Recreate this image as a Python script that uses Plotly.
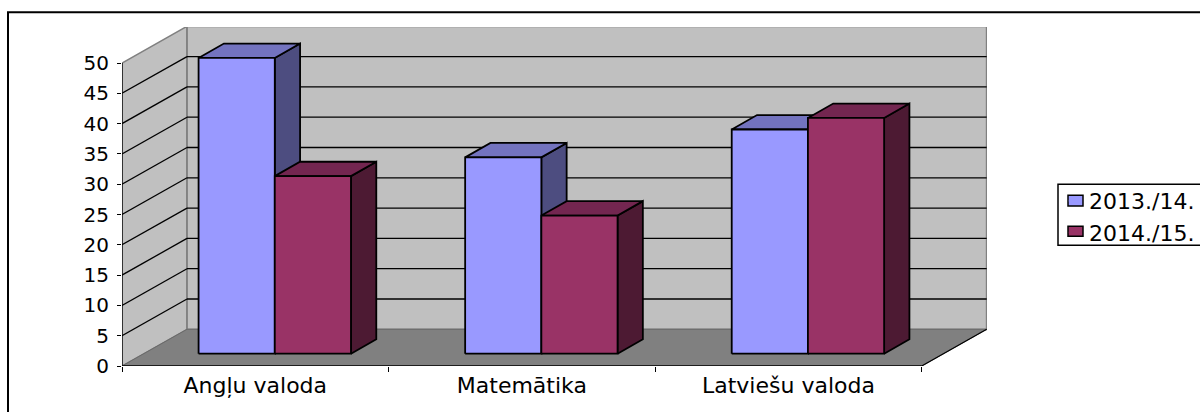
import plotly.graph_objects as go

categories = ["Angļu valoda", "Matemātika", "Latviešu valoda"]
series_names = ["2013./14.", "2014./15."]
values_2013 = [48.8, 32.4, 37.0]
values_2014 = [29.3, 22.8, 38.9]
y_ticks = [0, 5, 10, 15, 20, 25, 30, 35, 40, 45, 50]

FRONT = "#9999FF", "#993366"
TOP = "#7373BF", "#732650"
SIDE = "#4D4D80", "#4D1A33"

# plot frame in pixels
L, R, T, B = 122.0, 987.0, 26.7, 365.7
X_UNIT = (921.7 - 122) / 3
Y_UNIT = (365.7 - 62.7) / 50
WALL_DX = 65 / X_UNIT
WALL_DY = 36.7 / Y_UNIT
FLOOR_X = 19.5 / X_UNIT
FLOOR_Y = 12.3 / Y_UNIT
BAR_W = 76.2 / X_UNIT
BAR_DX = 25.3 / X_UNIT
BAR_DY = 14.4 / Y_UNIT
NCAT = len(categories)


def px(x):
    return (x - L) / (R - L)


def py(y):
    return (B - y) / (B - T)


fig = go.Figure()


def poly(xs, ys, fill=None, color="black", width=1.8):
    fig.add_trace(go.Scatter(
        x=xs, y=ys, mode="lines", showlegend=False, hoverinfo="skip", cliponaxis=False,
        fill="toself" if fill else None, fillcolor=fill,
        line=dict(color=color, width=width),
    ))


# walls and floor
poly([0, WALL_DX, WALL_DX, 0, 0], [0, WALL_DY, 50 + WALL_DY, 50, 0], "#C0C0C0", "#808080", 1.5)
poly([WALL_DX, NCAT + WALL_DX, NCAT + WALL_DX, WALL_DX, WALL_DX],
     [WALL_DY, WALL_DY, 50 + WALL_DY, 50 + WALL_DY, WALL_DY], "#C0C0C0", "#808080", 1.8)
poly([0, NCAT, NCAT + WALL_DX, WALL_DX, 0], [0, 0, WALL_DY, WALL_DY, 0], "#808080", "#696969", 1)

# gridlines
for t in y_ticks[1:]:
    if t < 50:
        poly([0, WALL_DX], [t, t + WALL_DY], None, "black", 1.3)
    poly([WALL_DX, NCAT + WALL_DX], [t + WALL_DY, t + WALL_DY], None, "black", 1.3)

# front edges of the floor and axis lines
poly([0, NCAT], [0, 0], None, "black", 1.5)
poly([NCAT, NCAT + WALL_DX], [0, WALL_DY], None, "black", 1.2)
poly([0, 0], [0, 50], None, "black", 1.3)

# bars
for i in range(NCAT):
    for s, vals in enumerate([values_2013, values_2014]):
        x0 = i + 0.5 + FLOOR_X - BAR_W + s * BAR_W
        x1 = x0 + BAR_W
        y0 = FLOOR_Y
        y1 = y0 + vals[i]
        poly([x1, x1 + BAR_DX, x1 + BAR_DX, x1, x1],
             [y0, y0 + BAR_DY, y1 + BAR_DY, y1, y0], SIDE[s])
        poly([x0, x0 + BAR_DX, x1 + BAR_DX, x1, x0],
             [y1, y1 + BAR_DY, y1 + BAR_DY, y1, y1], TOP[s])
        poly([x0, x1, x1, x0, x0], [y0, y0, y1, y1, y0], FRONT[s])

# legend entries
for s, name in enumerate(series_names):
    fig.add_trace(go.Scatter(x=[None], y=[None], mode="markers", name=name,
                             marker=dict(color=FRONT[s], opacity=0, size=1)))

shapes = []


def rect(x0, y0, x1, y1, line_w, fill="rgba(0,0,0,0)"):
    shapes.append(dict(type="rect", xref="paper", yref="paper",
                       x0=px(x0), x1=px(x1), y0=py(y0), y1=py(y1),
                       line=dict(color="black", width=line_w), fillcolor=fill, layer="above"))


rect(8, 12, 1300, 460, 2)
rect(1058, 184, 1300, 245, 1.5)
rect(1068, 195, 1083, 205.7, 1.5, FRONT[0])
rect(1068, 226, 1083, 236, 1.5, FRONT[1])

FONT = "DejaVu Sans"
fig.update_layout(
    width=1200, height=412, autosize=False,
    margin=dict(l=L, r=1200 - R, t=T, b=412 - B, pad=0),
    paper_bgcolor="white", plot_bgcolor="white",
    font=dict(family=FONT, size=20, color="black"),
    shapes=shapes,
    legend=dict(xref="container", yref="container", x=1064 / 1200, y=1 - 180 / 412,
                xanchor="left", yanchor="top",
                indentation=-15, bgcolor="rgba(0,0,0,0)", borderwidth=0,
                font=dict(family=FONT, size=22, color="black")),
    xaxis=dict(range=[0, (R - L) / X_UNIT], showgrid=False, zeroline=False, showline=False,
               tickmode="array", tickvals=[i + 0.5 for i in range(NCAT)], ticktext=categories,
               ticks="", ticklabelstandoff=4, tickfont=dict(family=FONT, size=22, color="black"),
               minor=dict(tickmode="array", tickvals=list(range(NCAT + 1)), ticks="outside",
                          ticklen=5, tickwidth=1, tickcolor="black", showgrid=False)),
    yaxis=dict(range=[0, (B - T) / Y_UNIT], showgrid=False, zeroline=False, showline=False,
               tickmode="array", tickvals=y_ticks, ticktext=[str(t) for t in y_ticks],
               ticks="outside", ticklen=4, tickwidth=1, tickcolor="black", ticklabelstandoff=4),
)

fig.write_html("out.html", config={"displayModeBar": False},
               post_script="document.body.style.margin='0';")
